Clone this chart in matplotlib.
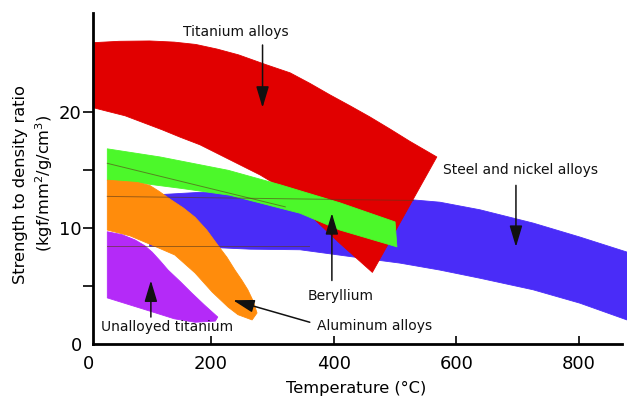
import numpy as np
import matplotlib
matplotlib.use("Agg")
import matplotlib.pyplot as plt
from matplotlib.patches import Polygon

# band outlines (temperature degC, strength/density)
titanium_x = [8, 50, 100, 140, 175, 210, 245, 290, 329, 361, 394, 427, 459, 492, 524, 568,
              463, 410, 361, 321, 280, 231, 182, 150, 120, 90, 60, 30, 8]
titanium_y = [26.0, 26.12, 26.15, 26.05, 25.85, 25.45, 24.95, 24.1, 23.4, 22.5, 21.5, 20.55,
              19.6, 18.55, 17.5, 16.15,
              6.2, 8.7, 11.15, 13.3, 14.6, 15.9, 17.2, 17.85, 18.5, 19.1, 19.7, 20.1, 20.4]

beryllium_x = [31, 117, 228, 313, 410, 500, 503, 410, 345, 231, 150, 84, 31]
beryllium_y = [16.85, 16.15, 15.0, 13.75, 12.2, 10.55, 8.4, 9.85, 11.3, 12.85, 13.45, 13.9, 14.15]

steel_x = [100, 182, 264, 345, 443, 529, 573, 638, 725, 801, 878,
           878, 801, 725, 638, 573, 508, 443, 345, 264, 182, 100]
steel_y = [12.85, 13.1, 13.05, 12.85, 12.6, 12.45, 12.25, 11.6, 10.45, 9.25, 7.95,
           2.1, 3.55, 4.7, 5.7, 6.4, 7.0, 7.45, 8.15, 8.2, 8.4, 8.45]

aluminum_x = [31, 80, 100, 115, 135, 155, 174, 193, 211, 226, 239, 250, 260, 269, 275, 267,
              244, 228, 202, 174, 141, 104, 68, 31]
aluminum_y = [14.15, 13.95, 13.7, 13.2, 12.45, 11.75, 10.95, 9.85, 8.55, 7.5, 6.4, 5.55, 4.7,
              3.7, 2.7, 2.1,
              2.55, 3.2, 4.5, 6.15, 7.7, 8.55, 9.35, 9.85]

unalloyed_x = [31, 55, 76, 92, 104, 117, 130, 150, 169, 190, 211, 207, 174, 140, 104, 31]
unalloyed_y = [9.7, 9.45, 9.0, 8.5, 7.95, 7.2, 6.4, 5.4, 4.4, 3.35, 2.35, 2.0, 1.9, 2.2, 2.8, 4.0]

# thin dark outline traces left in the original drawing
trace_x = [[31, 530], [31, 360], [31, 321]]
trace_y = [[12.75, 12.4], [8.45, 8.45], [15.6, 11.85]]

bands = [
    (steel_x, steel_y, "#4a2cf8"),
    (titanium_x, titanium_y, "#e10000"),
    (beryllium_x, beryllium_y, "#4cf82a"),
    (aluminum_x, aluminum_y, "#ff8c0c"),
    (unalloyed_x, unalloyed_y, "#b42af8"),
]

# label text, text position, arrow tail, arrow tip
labels = [
    ("Titanium alloys", (241, 26.9), (284, 25.8), (284, 20.4), "center"),
    ("Steel and nickel alloys", (578, 15.0), (697, 13.7), (697, 8.4), "left"),
    ("Beryllium", (412, 4.15), (397, 5.5), (397, 11.3), "center"),
    ("Aluminum alloys", (467, 1.55), (361, 1.9), (236, 3.8), "center"),
    ("Unalloyed titanium", (128, 1.45), (102, 2.35), (102, 5.5), "center"),
]

W, H = 628, 398
fig = plt.figure(figsize=(W / 100, H / 100), dpi=100)
ax = fig.add_axes([88.3 / W, (H - 344.3) / H, (627 - 88.3) / W, (344.3 - 13) / H])
ax.set_xlim(0, 878)
ax.set_ylim(0, 28.56)

for xs, ys, c in bands:
    ax.add_patch(Polygon(np.column_stack([xs, ys]), closed=True, facecolor=c,
                         edgecolor=c, lw=0.6, joinstyle="round", zorder=2))

for xs, ys in zip(trace_x, trace_y):
    ax.plot(xs, ys, color="#5a3a1a", lw=0.7, alpha=0.6, zorder=3)

for text, tpos, tail, tip, ha in labels:
    ax.annotate("", xy=tip, xytext=tail,
                arrowprops=dict(arrowstyle="-|>,head_length=1.0,head_width=0.3",
                                mutation_scale=13, color="#111111", lw=1.1,
                                shrinkA=0, shrinkB=0), zorder=5)
    ax.text(tpos[0], tpos[1], text, ha=ha, va="center", fontsize=10,
            color="#111111", zorder=6)

for s in ["top", "right"]:
    ax.spines[s].set_visible(False)
ax.spines["left"].set_position(("data", 7.5))
ax.spines["bottom"].set_bounds(7.5, 870)
for s in ["left", "bottom"]:
    ax.spines[s].set_linewidth(2.0)
    ax.spines[s].set_color("#000000")

ax.set_xticks([0, 200, 400, 600, 800])
ax.set_yticks([0, 10, 20])
ax.set_yticks([5, 15], minor=True)
ax.tick_params(axis="x", direction="in", length=6, width=1.2, labelsize=13, pad=8)
ax.tick_params(axis="y", which="both", direction="out", length=7, width=1.2,
               labelsize=13, pad=1)
ax.xaxis.get_major_ticks()[0].tick1line.set_visible(False)
ax.yaxis.get_major_ticks()[0].tick1line.set_visible(False)

fig.text(356 / W, 1 - 388 / H, "Temperature (°C)", ha="center", va="center", fontsize=11.7)
fig.text(21 / W, 1 - 185 / H, "Strength to density ratio", rotation=90,
         ha="center", va="center", fontsize=11.7)
fig.text(44 / W, 1 - 183 / H, "(kgf/mm$^2$/g/cm$^3$)", rotation=90,
         ha="center", va="center", fontsize=11.7)

fig.savefig("out.png", dpi=100)
